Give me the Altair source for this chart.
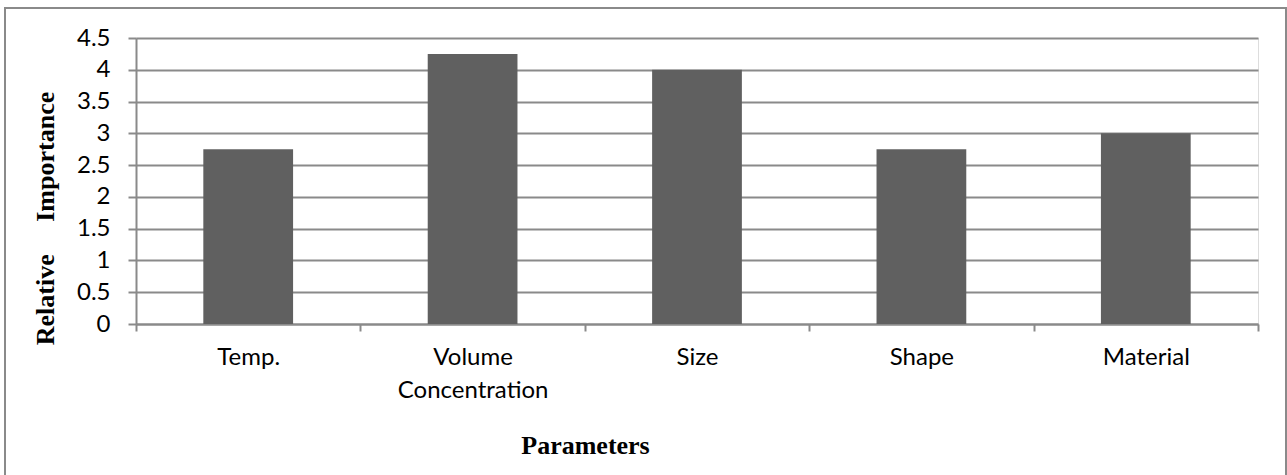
import altair as alt
import pandas as pd

categories = ["Temp.", "Volume Concentration", "Size", "Shape", "Material"]
values = [2.75, 4.25, 4.0, 2.75, 3.0]
y_ticks = [0, 0.5, 1, 1.5, 2, 2.5, 3, 3.5, 4, 4.5]

df = pd.DataFrame({"param": categories, "value": values})

GRID = "#8a8a8a"
LABEL_FONT = "Lato"
TITLE_FONT = "Liberation Serif"

bars = alt.Chart(df).mark_bar(
    color="#606060", width=alt.RelativeBandSize(0.4)
).encode(
    x=alt.X(
        "param:N",
        sort=categories,
        scale=alt.Scale(paddingInner=0, paddingOuter=0),
        axis=alt.Axis(
            title="Parameters",
            titleFont=TITLE_FONT,
            titleFontWeight="bold",
            titleFontSize=26,
            titleColor="#000000",
            titleX=449,
            titleY=121,
            titleAlign="center",
            titleBaseline="middle",
            labelAngle=0,
            labelFont=LABEL_FONT,
            labelFontSize=24,
            labelColor="#000000",
            labelPadding=14,
            labelLineHeight=33,
            labelBaseline="top",
            labelExpr="datum.label == 'Volume Concentration' ? ['Volume', 'Concentration'] : datum.label",
            tickBand="extent",
            tickSize=7,
            tickColor=GRID,
            tickWidth=2,
            domainColor=GRID,
            domainWidth=2,
            grid=False,
        ),
    ),
    y=alt.Y(
        "value:Q",
        scale=alt.Scale(domain=[0, 4.5], nice=False),
        axis=alt.Axis(
            values=y_ticks,
            format="~g",
            title="Relative\u00a0\u00a0\u00a0\u00a0\u00a0Importance",
            titleFont=TITLE_FONT,
            titleFontWeight="bold",
            titleFontSize=26,
            titleColor="#000000",
            titleAngle=270,
            titleX=-91,
            titleY=180,
            titleAlign="center",
            titleBaseline="middle",
            labelFont=LABEL_FONT,
            labelFontSize=24,
            labelColor="#000000",
            labelPadding=18,
            tickSize=8,
            tickColor=GRID,
            tickWidth=2,
            domainColor=GRID,
            domainWidth=2,
            grid=True,
            gridColor=GRID,
            gridWidth=2,
        ),
    ),
)

border = alt.Chart(alt.Data(values=[{}])).mark_rect(
    fill=None, stroke="#8a8a8a", strokeWidth=2
).encode(
    x=alt.value(-131), x2=alt.value(1150), y=alt.value(-30), y2=alt.value(460)
)

chart = alt.layer(border, bars).properties(
    width=1122,
    height=286,
    autosize=alt.AutoSizeParams(type="none"),
    padding={"left": 136, "top": 38, "right": 29, "bottom": 151},
).configure_view(stroke=None).configure(background="white")

chart.save("out.html", embed_options={"renderer": "svg", "actions": False})
